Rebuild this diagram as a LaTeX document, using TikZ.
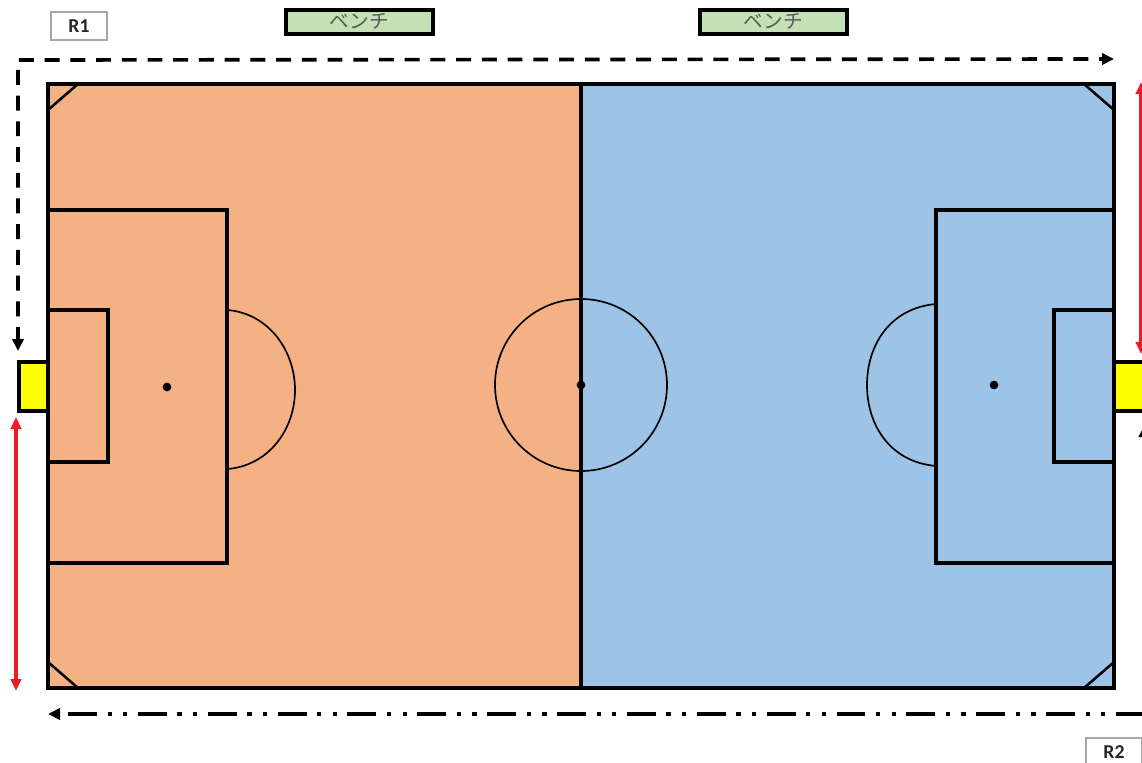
\documentclass[tikz,border=0pt]{standalone}
\usepackage{fontspec}
\setmainfont{Carlito}
\newfontfamily\jpfont{Noto Sans CJK JP}
\usetikzlibrary{arrows.meta}
\definecolor{halforange}{HTML}{F4B183}
\definecolor{halfblue}{HTML}{9DC3E6}
\definecolor{benchgreen}{HTML}{C5E0B4}
\definecolor{goalyellow}{HTML}{FFFF00}
\definecolor{arrred}{HTML}{EE1C25}
\definecolor{refgray}{HTML}{A6A6A6}
\definecolor{txtgray}{HTML}{595959}
\definecolor{txtdark}{HTML}{262626}

\begin{document}
\begin{tikzpicture}[
  x=0.025cm, y=-0.025cm,
  >={Triangle[length=3mm, width=2.8mm]},
  pline/.style={draw=black, line width=3pt, line join=miter},
  thinline/.style={draw=black, line width=1.2pt},
  cornerline/.style={draw=black, line width=1.8pt},
  benchbox/.style={draw=black, line width=2.6pt, fill=benchgreen, minimum width=104.4pt,
    minimum height=17.5pt, inner sep=0pt, font=\jpfont\fontsize{14}{14}\selectfont, text=txtgray},
  refbox/.style={draw=refgray, line width=1.4pt, fill=white, minimum width=40pt,
    minimum height=20pt, inner sep=0pt, font=\fontsize{14}{14}\selectfont\bfseries, text=txtdark},
  goalbox/.style={draw=black, line width=2.8pt, fill=goalyellow, minimum height=35.5pt,
    inner sep=0pt},
  spot/.style={circle, fill=black, minimum size=6.2pt, inner sep=0pt},
  redarr/.style={<->, line width=2.5pt, arrred, >={Triangle[length=3mm, width=2.6mm]}},
  dasharr/.style={<->, line width=2.6pt, black, dash pattern=on 10.6pt off 7.69pt, dash phase=1.6pt},
  dotarr/.style={<->, line width=2.6pt, black,
    dash pattern=on 20.6pt off 7.5pt on 3pt off 8.08pt on 3pt off 7.5pt, dash phase=1.5pt},
]

\useasboundingbox (0,0) rectangle (1142,762);
\clip (0,0) rectangle (1142,762);

% Halves
\fill[halforange] (48,84) rectangle (581,688);
\fill[halfblue] (581,84) rectangle (1114,688);

% Corners
\draw[cornerline] (48,110) -- (78,84);
\draw[cornerline] (1084,84) -- (1114,110);
\draw[cornerline] (48,662) -- (78,688);
\draw[cornerline] (1084,688) -- (1114,662);

% Center circle, penalty arcs
\draw[thinline] (581,385) circle (86);
\draw[thinline] (227,310) .. controls (268,313) and (295,350) .. (295,390)
  .. controls (295,430) and (268,466) .. (227,469);
\draw[thinline] (936,304) .. controls (890,308) and (867,345) .. (867,385)
  .. controls (867,425) and (890,462) .. (936,466);

% Penalty boxes
\draw[pline] (48,210) rectangle (227,563);
\draw[pline] (48,310) rectangle (108,462);
\draw[pline] (936,210) rectangle (1114,563);
\draw[pline] (1054,310) rectangle (1114,462);

% Pitch outline
\draw[pline] (48,84) rectangle (1114,688);
\draw[pline] (581,84) -- (581,688);

% Spots
\node[spot] (spotl) at (167,387) {};
\node[spot] (spotc) at (581,385) {};
\node[spot] (spotr) at (994,385) {};

% Goals
\node[goalbox, minimum width=21pt] (goall) at (33.5,386.5) {};
\node[goalbox, minimum width=21pt] (goalr) at (1129,386.5) {};

% Benches, referees
\node[benchbox] (bencha) at (359.5,22) {\raisebox{1.5pt}{ベンチ}};
\node[benchbox] (benchb) at (773.5,22) {\raisebox{1.5pt}{ベンチ}};
\node[refbox] (rone) at (79,26) {R1};
\node[refbox] (rtwo) at (1114,752) {R2};

% Arrow ends
\coordinate (dashs) at (18,351);
\coordinate (dashc) at (18,60);
\coordinate (dashe) at (1114,59);
\coordinate (dots) at (1144.5,425);
\coordinate (dotc) at (1144.5,714);
\coordinate (dote) at (48,714);
\coordinate (lefta) at (16,417);
\coordinate (leftb) at (16,691);
\coordinate (righta) at (1141,82);
\coordinate (rightb) at (1141,354);

% Referee runs
\draw[dasharr] (dashs) -- (dashc) -- (dashe);
\draw[dotarr] (dots) -- (dotc) -- (dote);

% Red ranges
\draw[redarr] (lefta) -- (leftb);
\draw[redarr] (righta) -- (rightb);

\end{tikzpicture}
\end{document}
